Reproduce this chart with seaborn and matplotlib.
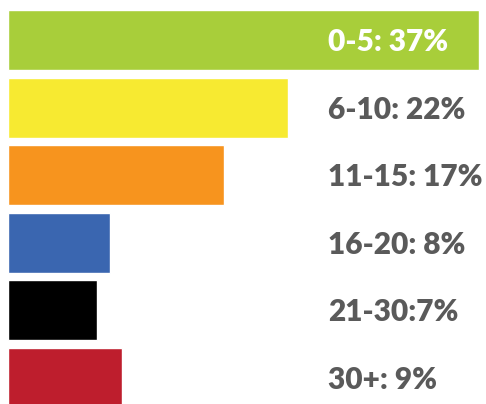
import matplotlib
matplotlib.use("Agg")
import matplotlib.pyplot as plt
import seaborn as sns

groups = ["0-5", "6-10", "11-15", "16-20", "21-30", "30+"]
shares = [37, 22, 17, 8, 7, 9]
labels = ["0-5: 37%", "6-10: 22%", "11-15: 17%", "16-20: 8%", "21-30:7%", "30+: 9%"]
colors = ["#a8ce3a", "#f7ea31", "#f7941e", "#3a66b0", "#000000", "#be1e2d"]
label_colors = ["white", "#5a5a5a", "#5a5a5a", "#5a5a5a", "#5a5a5a", "#5a5a5a"]

sns.set_style("white")
plt.rcParams['font.family'] = ['Lato', 'DejaVu Sans']

fig = plt.figure(figsize=(4.86, 4.04), dpi=100)
ax = fig.add_axes([0, 0, 1, 1])

sns.barplot(x=shares, y=groups, hue=groups, palette=colors, width=0.888,
            legend=False, saturation=1, ax=ax)

# pixel scale: ~12.7 px per percent, bars start at 8 px
s = 12.72
ax.set_xlim(-8 / s, (486 - 8) / s)
ax.set_ylim((404 - 40) / 67.6, -40 / 67.6)

for i, (txt, c) in enumerate(zip(labels, label_colors)):
    ax.text((328 - 8) / s, i + 0.03, txt, color=c, fontsize=21.5,
            fontweight='heavy', ha='left', va='center')

ax.axis('off')
fig.savefig("out.png", dpi=100)
